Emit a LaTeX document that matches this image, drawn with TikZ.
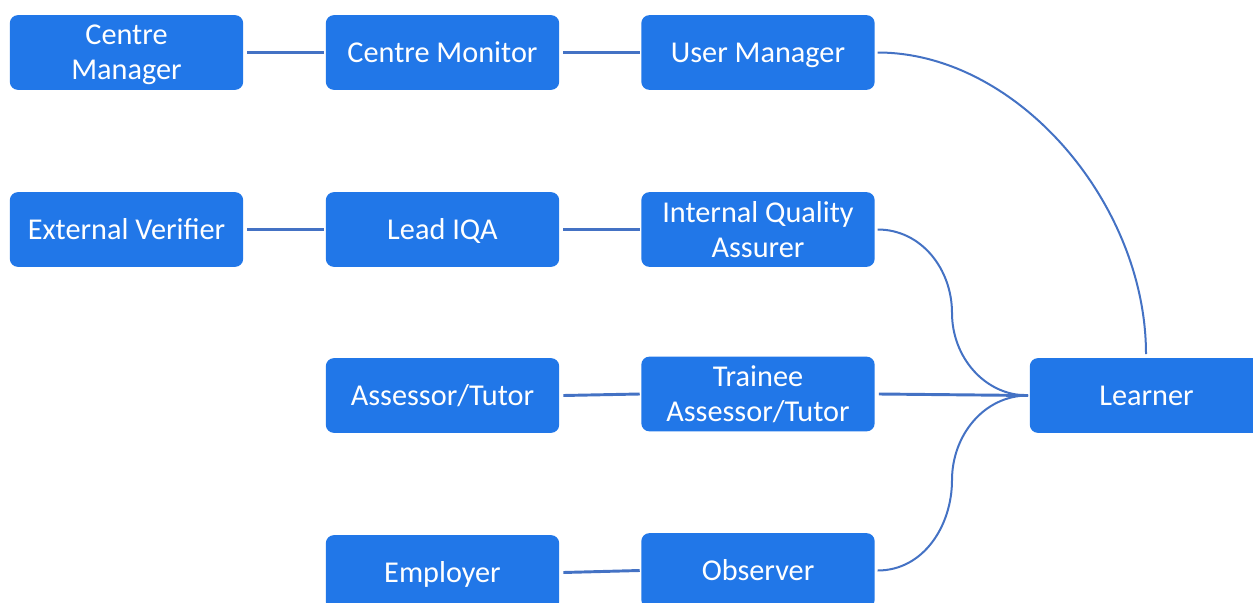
\documentclass[tikz,border=0pt]{standalone}
\usepackage{fontspec}
\setmainfont{Carlito}
\definecolor{boxblue}{RGB}{33,119,232}
\definecolor{linkblue}{RGB}{68,114,196}
\begin{document}
\begin{tikzpicture}[x=0.75pt,y=-0.75pt,
  box/.style={fill=boxblue,draw=none,rounded corners=6pt,minimum width=175pt,minimum height=56pt,
    text=white,align=center,font=\fontsize{22.7}{26.3}\selectfont,inner sep=0pt},
  oneline/.style={box,text height=15.75pt,text depth=0.75pt},
  twoline/.style={box,text depth=0pt},
  link/.style={draw=linkblue,line width=2.2pt},
  curve/.style={draw=linkblue,line width=1.5pt}]
\useasboundingbox (0,0) rectangle (1253,603);
\node[twoline] (cm) at (126.5,52.5) {Centre\\Manager};
\node[oneline] (cmon) at (442.5,52.5) {Centre Monitor};
\node[oneline] (um) at (758,52.5) {User Manager};
\node[oneline] (ev) at (126.5,229.5) {External Verifier};
\node[oneline] (liqa) at (442.5,229.5) {Lead IQA};
\node[twoline] (iqa) at (758,229.5) {Internal Quality\\Assurer};
\node[oneline] (at) at (442.5,395.5) {Assessor/Tutor};
\node[twoline] (tat) at (758,394) {Trainee\\Assessor/Tutor};
\node[oneline] (lr) at (1146.5,395.5) {Learner};
\node[oneline] (emp) at (442.5,572.5) {Employer};
\node[oneline] (obs) at (758,570.5) {Observer};
\coordinate (lrin) at (1028,395.5);
\coordinate (lrtop) at (1146,354);
\coordinate (iqamid) at (952,313);
\coordinate (obsmid) at (952,480);
\draw[link] ([xshift=3]cm.east) -- ([xshift=-1]cmon.west);
\draw[link] ([xshift=3]cmon.east) -- ([xshift=-1]um.west);
\draw[link] ([xshift=3]ev.east) -- ([xshift=-1]liqa.west);
\draw[link] ([xshift=3]liqa.east) -- ([xshift=-1]iqa.west);
\draw[link] ([xshift=3]at.east) -- ([xshift=-1]tat.west);
\draw[link] ([xshift=3]emp.east) -- ([xshift=-1]obs.west);
\draw[link] ([xshift=3]tat.east) -- (lrin);
\draw[curve] ([xshift=2]um.east) .. controls +(140,0) and +(0,-150) .. (lrtop);
\draw[curve] ([xshift=2]iqa.east) to[out=0,in=90] (iqamid) to[out=-90,in=180] (lrin);
\draw[curve] ([xshift=2]obs.east) to[out=0,in=-90] (obsmid) to[out=90,in=180] (lrin);
\end{tikzpicture}
\end{document}
